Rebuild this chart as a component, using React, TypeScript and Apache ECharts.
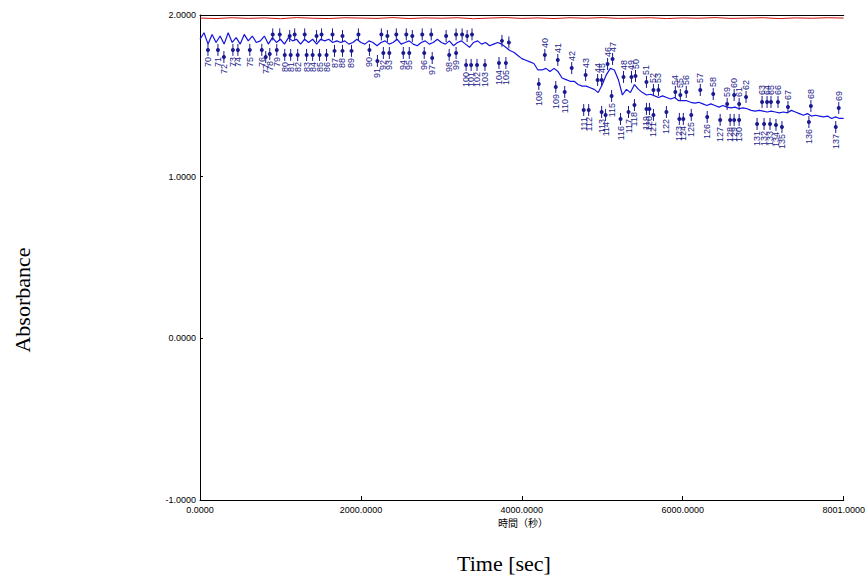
import React, { useEffect, useRef } from 'react';
import * as echarts from 'echarts';

// Absorbance samples of the blue trace (one every SAMPLE_STEP seconds)
const SAMPLE_STEP = 50;
const blueValues = [
  1.85, 1.89, 1.82, 1.88, 1.83, 1.87, 1.82, 1.89, 1.83, 1.86, 1.82, 1.88, 1.84, 1.87, 1.83,
  1.84, 1.87, 1.82, 1.86, 1.83, 1.85, 1.82, 1.86, 1.84, 1.85, 1.82, 1.85, 1.83, 1.85, 1.82, 1.85, 1.84, 1.85, 1.83, 1.84,
  1.83, 1.84, 1.82, 1.83, 1.85, 1.83, 1.82, 1.84, 1.83, 1.81,
  1.83, 1.84, 1.82, 1.83, 1.85, 1.82, 1.83, 1.84, 1.82, 1.81,
  1.83, 1.84, 1.82, 1.83, 1.85, 1.83, 1.82, 1.84, 1.81, 1.83,
  1.84, 1.82, 1.80, 1.83, 1.84, 1.82, 1.83, 1.81, 1.82, 1.83,
  1.82,
  1.80, 1.78, 1.77, 1.75, 1.73, 1.72, 1.71, 1.70, 1.66, 1.66,
  1.67, 1.65, 1.67, 1.65, 1.61, 1.60, 1.59, 1.59, 1.57, 1.56,
  1.56, 1.55, 1.54, 1.52, 1.57, 1.63, 1.67, 1.66, 1.60, 1.505,
  1.54, 1.52, 1.57, 1.54, 1.52, 1.505, 1.51, 1.50, 1.49, 1.50,
  1.49, 1.48, 1.49, 1.47, 1.47, 1.47, 1.46, 1.455, 1.46, 1.45,
  1.44, 1.45, 1.44, 1.43, 1.44, 1.43, 1.425, 1.43, 1.42, 1.425,
  1.42, 1.41, 1.405, 1.41, 1.405, 1.40, 1.405, 1.40, 1.395, 1.40,
  1.395, 1.41, 1.40, 1.39, 1.38, 1.39, 1.375, 1.38, 1.375, 1.37,
  1.375, 1.36, 1.37, 1.36, 1.36,
];

// Reference (red) trace, one sample every RED_STEP seconds
const RED_STEP = 200;
const redValues = [
  1.981, 1.978, 1.983, 1.979, 1.982, 1.977, 1.984, 1.980, 1.978, 1.983,
  1.981, 1.979, 1.984, 1.978, 1.982, 1.980, 1.983, 1.977, 1.981, 1.984,
  1.979, 1.982, 1.978, 1.983, 1.980, 1.984, 1.979, 1.981, 1.983, 1.978,
  1.982, 1.980, 1.984, 1.979, 1.981, 1.983, 1.978, 1.982, 1.980, 1.983,
  1.981,
];

// Labelled minima (labels below the trace)
const troughLabels = [
  70, 71, 72, 73, 74, 75, 76, 77, 78, 79, 80, 81, 82, 83, 84, 85, 86, 87, 88, 89,
  90, 91, 92, 93, 94, 95, 96, 97, 98, 99, 100, 101, 102, 103, 104, 105,
  108, 109, 110, 111, 112, 113, 114, 115, 116, 117, 118, 119, 120, 121, 122, 123,
  124, 125, 126, 127, 128, 129, 130, 131, 132, 133, 134, 135, 136, 137,
];
const troughTimes = [
  99, 223, 297, 409, 471, 619, 768, 817, 867, 954, 1053, 1127, 1214, 1325, 1400, 1486, 1573, 1672, 1771, 1883,
  2106, 2205, 2279, 2353, 2527, 2601, 2787, 2886, 3097, 3183, 3307, 3370, 3443, 3542, 3716, 3802,
  4211, 4422, 4533, 4769, 4831, 4992, 5041, 5116, 5227, 5326, 5400, 5549, 5586, 5636, 5797, 5958,
  6007, 6106, 6304, 6465, 6589, 6639, 6701, 6924, 7011, 7085, 7159, 7233, 7568, 7902,
];
const troughValues = [
  1.784, 1.784, 1.740, 1.784, 1.784, 1.784, 1.784, 1.740, 1.759, 1.784, 1.753, 1.753, 1.753, 1.753, 1.753, 1.753, 1.753, 1.778, 1.778, 1.778,
  1.784, 1.716, 1.765, 1.765, 1.765, 1.765, 1.765, 1.734, 1.753, 1.765, 1.691, 1.691, 1.691, 1.691, 1.703, 1.703,
  1.573, 1.555, 1.524, 1.412, 1.412, 1.400, 1.382, 1.499, 1.357, 1.400, 1.443, 1.419, 1.419, 1.382, 1.400, 1.357,
  1.357, 1.382, 1.369, 1.351, 1.351, 1.351, 1.351, 1.326, 1.326, 1.326, 1.320, 1.307, 1.338, 1.307,
];

// Labelled maxima (labels above the trace)
const peakLabels = [
  40, 41, 42, 43, 44, 45, 46, 47, 48, 49, 50, 51, 52, 53, 54,
  55, 56, 57, 58, 59, 60, 61, 62, 63, 64, 65, 66, 67, 68, 69,
];
const peakTimes = [
  4286, 4447, 4620, 4793, 4942, 4992, 5066, 5128, 5264, 5363, 5413, 5549, 5636, 5698, 5908,
  5970, 6044, 6218, 6379, 6552, 6639, 6701, 6787, 6986, 7048, 7097, 7184, 7308, 7593, 7939,
];
const peakValues = [
  1.753, 1.722, 1.672, 1.629, 1.598, 1.598, 1.697, 1.728, 1.617, 1.617, 1.623, 1.586, 1.536, 1.536, 1.524,
  1.505, 1.524, 1.536, 1.511, 1.450, 1.505, 1.450, 1.493, 1.462, 1.462, 1.462, 1.462, 1.431, 1.437, 1.425,
];

// Unlabelled maxima on the flat part
const upperPinTimes = [
  904, 991, 1115, 1177, 1301, 1449, 1511, 1647, 1771, 1969, 2254, 2329,
  2440, 2564, 2639, 2762, 2874, 3059, 3183, 3258, 3320, 3381, 3753, 3839,
];
const upperPinValues = [
  1.88, 1.88, 1.87, 1.88, 1.88, 1.87, 1.88, 1.88, 1.87, 1.88, 1.88, 1.87,
  1.88, 1.88, 1.87, 1.88, 1.88, 1.87, 1.88, 1.88, 1.87, 1.88, 1.84, 1.83,
];

const xTickValues = [0, 2000, 4000, 6000, 8001];
const X_MAX = 8001;
const Y_MIN = -1;
const Y_MAX = 2;
const Y_INTERVAL = 1;

const PIN_COLOR = '#1a1a90';
const LABEL_COLOR = '#24248c';

function pinSeries(name: string, times: number[], values: number[], labels: number[] | null, dir: number) {
  return {
    type: 'custom',
    name,
    z: 5,
    data: times.map((t, i) => [t, values[i]]),
    renderItem: (params: any, api: any) => {
      const p = api.coord([api.value(0), api.value(1)]);
      const children: any[] = [
        {
          type: 'line',
          shape: { x1: p[0], y1: p[1] - 6, x2: p[0], y2: p[1] + 6 },
          style: { stroke: PIN_COLOR, lineWidth: 1 },
        },
        {
          type: 'circle',
          shape: { cx: p[0], cy: p[1], r: 2 },
          style: { fill: PIN_COLOR },
        },
      ];
      if (labels) {
        children.push({
          type: 'text',
          x: p[0],
          y: dir > 0 ? p[1] + 7 : p[1] - 7,
          rotation: Math.PI / 2,
          style: {
            text: String(labels[params.dataIndex]),
            align: dir > 0 ? 'right' : 'left',
            verticalAlign: 'middle',
            fill: LABEL_COLOR,
            fontSize: 9,
            fontFamily: 'Liberation Sans',
          },
        });
      }
      return { type: 'group', children };
    },
  };
}

export default function App() {
  const ref = useRef<HTMLDivElement>(null);
  useEffect(() => {
    if (!ref.current) return;
    const chart = echarts.init(ref.current, null, { renderer: 'svg' });
    const fmt = (v: number) => v.toFixed(4);
    chart.setOption({
      animation: false,
      backgroundColor: '#ffffff',
      grid: { left: 200, right: 21, top: 15, bottom: 76 },
      xAxis: [
        {
          type: 'value',
          min: 0,
          max: X_MAX,
          interval: 2000,
          position: 'bottom',
          axisLine: { show: true, onZero: false, lineStyle: { color: '#000', width: 1 } },
          axisTick: { show: true, inside: true, length: 4, lineStyle: { color: '#000' }, customValues: xTickValues },
          axisLabel: {
            show: true,
            customValues: xTickValues,
            formatter: fmt,
            color: '#000',
            fontSize: 9,
            lineHeight: 9,
            fontFamily: 'Liberation Sans',
            margin: 5,
          },
          splitLine: { show: false },
        },
        {
          type: 'value',
          min: 0,
          max: X_MAX,
          position: 'top',
          axisLine: { show: true, onZero: false, lineStyle: { color: '#000', width: 1 } },
          axisTick: { show: false },
          axisLabel: { show: false },
          splitLine: { show: false },
        },
      ],
      yAxis: {
        type: 'value',
        min: Y_MIN,
        max: Y_MAX,
        interval: Y_INTERVAL,
        axisLine: { show: true, onZero: false, lineStyle: { color: '#000', width: 1 } },
        axisTick: { show: true, inside: true, length: 3, lineStyle: { color: '#000' } },
        axisLabel: {
          formatter: fmt,
          color: '#000',
          fontSize: 9,
          lineHeight: 8,
          fontFamily: 'Liberation Sans',
          margin: 4,
        },
        splitLine: { show: false },
      },
      graphic: [
        {
          type: 'text',
          x: 22,
          y: 300,
          rotation: Math.PI / 2,
          style: {
            text: 'Absorbance',
            fontSize: 22,
            fontFamily: 'Liberation Serif',
            align: 'center',
            verticalAlign: 'middle',
            fill: '#000',
          },
        },
        {
          type: 'text',
          x: 504,
          y: 563,
          style: {
            text: 'Time [sec]',
            fontSize: 22,
            fontFamily: 'Liberation Serif',
            align: 'center',
            verticalAlign: 'middle',
            fill: '#000',
          },
        },
        {
          type: 'text',
          x: 523,
          y: 522,
          style: {
            text: '時間（秒）',
            fontSize: 10,
            lineHeight: 10,
            fontFamily: 'Noto Sans CJK JP',
            align: 'center',
            verticalAlign: 'middle',
            fill: '#000',
          },
        },
      ],
      series: [
        {
          type: 'line',
          name: 'reference',
          data: redValues.map((v, i) => [i * RED_STEP, v]),
          symbol: 'none',
          lineStyle: { color: '#cc1010', width: 1 },
          z: 3,
        },
        {
          type: 'line',
          name: 'absorbance',
          data: blueValues.map((v, i) => [i * SAMPLE_STEP, v]),
          symbol: 'none',
          lineStyle: { color: '#1414e0', width: 1.2 },
          z: 4,
        },
        pinSeries('upper', upperPinTimes, upperPinValues, null, -1),
        pinSeries('troughs', troughTimes, troughValues, troughLabels, 1),
        pinSeries('peaks', peakTimes, peakValues, peakLabels, -1),
      ],
    });
    return () => chart.dispose();
  }, []);
  return (
    <div
      ref={ref}
      style={{ position: 'fixed', left: 0, top: 0, width: 868, height: 576, background: '#fff' }}
    />
  );
}
